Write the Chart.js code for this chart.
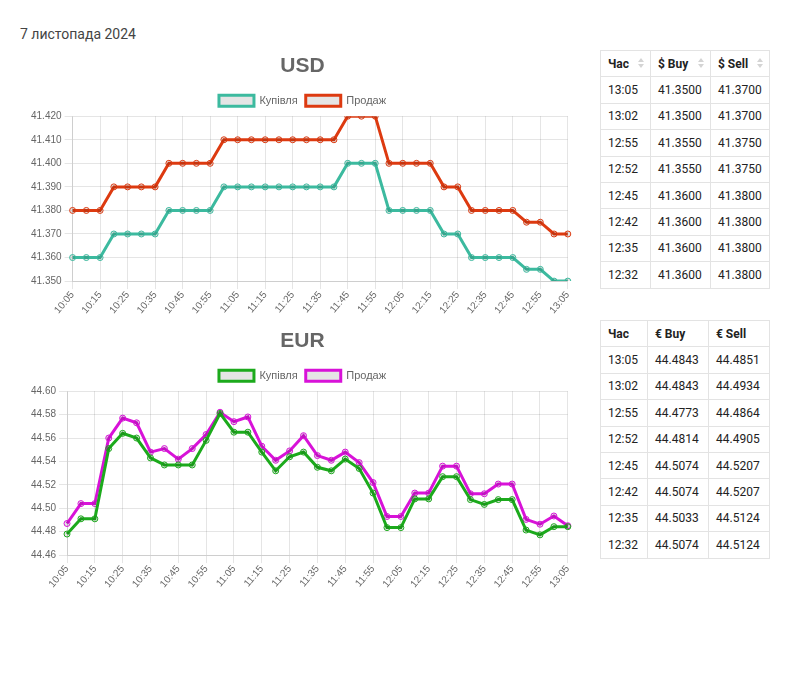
<!DOCTYPE html>
<html>
<head>
<meta charset="utf-8">
<script src="https://cdn.jsdelivr.net/npm/chart.js@4/dist/chart.umd.min.js"></script>
<style>
  html, body { margin: 0; padding: 0; background: #fff; }
  body { width: 800px; height: 674px; position: relative; font-family: Roboto, "Noto Sans", sans-serif; }
  #date { position: absolute; left: 20px; top: 26px; font-size: 14px; color: #444; }
  .chartbox { position: absolute; left: 28px; width: 549px; }
  #usdBox { top: 43px; height: 273px; }
  #eurBox { top: 318px; height: 272px; }
  table { position: absolute; left: 600px; border-collapse: collapse; font-size: 12px; color: #222; table-layout: fixed; }
  td, th { border: 1px solid #e3e3e3; height: 25.4px; padding: 0 0 0 7px; text-align: left; white-space: nowrap; overflow: hidden; }
  th { font-weight: bold; position: relative; }
  #usdTable { top: 50px; }
  #eurTable { top: 320px; }
  .sort { position: absolute; right: 6px; top: 7px; width: 6px; }
  .sort i { display: block; width: 0; height: 0; border-left: 3px solid transparent; border-right: 3px solid transparent; margin-bottom: 2px; }
  .sort i.up { border-bottom: 4px solid #d4d4d4; }
  .sort i.dn { border-top: 4px solid #d4d4d4; }
</style>
</head>
<body>
<div id="date">7 листопада 2024</div>
<div class="chartbox" id="usdBox"><canvas id="usd"></canvas></div>
<div class="chartbox" id="eurBox"><canvas id="eur"></canvas></div>
<table id="usdTable"></table>
<table id="eurTable"></table>
<script>
const times = ["10:05","10:12","10:15","10:22","10:25","10:32","10:35","10:42","10:45","10:52","10:55",
  "11:02","11:05","11:12","11:15","11:22","11:25","11:32","11:35","11:42","11:45","11:52","11:55",
  "12:02","12:05","12:12","12:15","12:22","12:25","12:32","12:35","12:42","12:45","12:52","12:55",
  "13:02","13:05"];
const usdBuy = [41.36,41.36,41.36,41.37,41.37,41.37,41.37,41.38,41.38,41.38,41.38,
  41.39,41.39,41.39,41.39,41.39,41.39,41.39,41.39,41.39,41.40,41.40,41.40,
  41.38,41.38,41.38,41.38,41.37,41.37,41.36,41.36,41.36,41.36,41.355,41.355,41.35,41.35];
const usdSell = [41.38,41.38,41.38,41.39,41.39,41.39,41.39,41.40,41.40,41.40,41.40,
  41.41,41.41,41.41,41.41,41.41,41.41,41.41,41.41,41.41,41.42,41.42,41.42,
  41.40,41.40,41.40,41.40,41.39,41.39,41.38,41.38,41.38,41.38,41.375,41.375,41.37,41.37];
const eurBuy = [44.478,44.491,44.491,44.551,44.564,44.560,44.543,44.537,44.537,44.537,44.558,
  44.581,44.565,44.565,44.548,44.532,44.544,44.548,44.535,44.532,44.542,44.534,44.513,
  44.4835,44.4835,44.508,44.508,44.527,44.527,44.5074,44.5033,44.5074,44.5074,44.4814,44.4773,44.4843,44.4843];
const eurSell = [44.487,44.504,44.504,44.560,44.577,44.573,44.548,44.551,44.542,44.551,44.563,
  44.582,44.574,44.578,44.553,44.541,44.549,44.562,44.545,44.541,44.548,44.539,44.522,
  44.493,44.493,44.513,44.513,44.536,44.536,44.5124,44.5124,44.5207,44.5207,44.4905,44.4864,44.4934,44.4851];
const seriesNames = ["Купівля", "Продаж"];
const usdTicks = { min: 41.35, max: 41.42, step: 0.01, dec: 3 };
const eurTicks = { min: 44.46, max: 44.60, step: 0.02, dec: 2 };
const tableRows = 8;

Chart.defaults.font.family = "'Liberation Sans', Arial, Helvetica, sans-serif";
Chart.defaults.color = "#666";

function makeChart(id, title, buy, sell, c1, c2, t) {
  const ds = (label, data, color) => ({
    label, data, borderColor: color, backgroundColor: 'rgba(0,0,0,0.1)',
    borderWidth: 3, pointRadius: 3, pointBorderWidth: 1, tension: 0, fill: false
  });
  return new Chart(document.getElementById(id), {
    type: 'line',
    data: { labels: times, datasets: [ds(seriesNames[0], buy, c1), ds(seriesNames[1], sell, c2)] },
    options: {
      responsive: true, maintainAspectRatio: false, animation: false,
      layout: { padding: 0 },
      plugins: {
        title: { display: true, text: title, font: { size: 21, weight: 'bold' }, color: '#666', padding: { top: 11, bottom: 8 } },
        legend: { labels: { boxWidth: 35, boxHeight: 11, padding: 8, font: { size: 11 }, color: '#666' } },
        tooltip: { enabled: false }
      },
      scales: {
        x: { ticks: { autoSkip: true, maxTicksLimit: 19, minRotation: 50, maxRotation: 50, padding: 0, font: { size: 10 } },
             grid: { color: 'rgba(0,0,0,0.1)' } },
        y: { min: t.min, max: t.max,
             ticks: { stepSize: t.step, font: { size: 10 }, callback: v => Number(v).toFixed(t.dec) },
             grid: { color: 'rgba(0,0,0,0.1)' } }
      }
    }
  });
}
makeChart('usd', 'USD', usdBuy, usdSell, '#3cba9f', '#dd3a10', usdTicks);
makeChart('eur', 'EUR', eurBuy, eurSell, '#1caa1c', '#d812d8', eurTicks);

function makeTable(id, heads, buy, sell, arrows, widths) {
  const tbl = document.getElementById(id);
  const sortHtml = arrows ? '<span class="sort"><i class="up"></i><i class="dn"></i></span>' : '';
  let html = '<colgroup>' + widths.map(w => '<col style="width:' + w + 'px">').join('') + '</colgroup>';
  html += '<tr>' + heads.map(h => '<th>' + h + sortHtml + '</th>').join('') + '</tr>';
  const n = times.length;
  for (let r = 0; r < tableRows; r++) {
    const i = n - 1 - r;
    html += '<tr><td>' + times[i] + '</td><td>' + buy[i].toFixed(4) + '</td><td>' + sell[i].toFixed(4) + '</td></tr>';
  }
  tbl.innerHTML = html;
  tbl.style.width = widths.reduce((a, b) => a + b, 0) + 'px';
}
makeTable('usdTable', ['Час', '$ Buy', '$ Sell'], usdBuy, usdSell, true, [50, 60, 59]);
makeTable('eurTable', ['Час', '€ Buy', '€ Sell'], eurBuy, eurSell, false, [47, 61, 61]);
</script>
</body>
</html>
